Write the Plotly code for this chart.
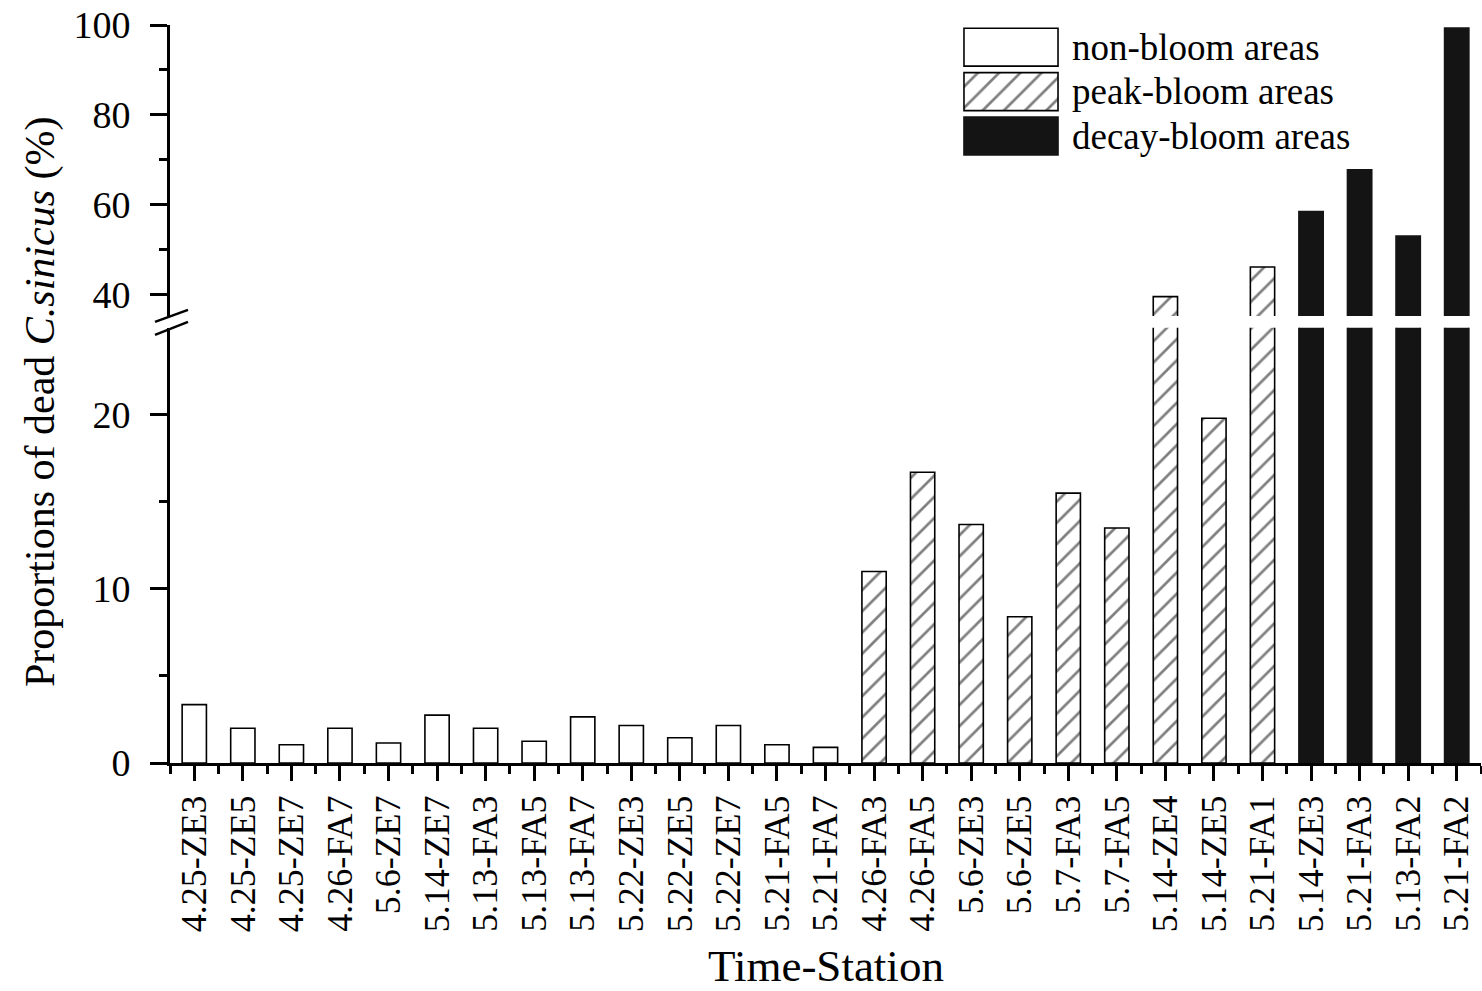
import plotly.graph_objects as go

# Sampling stations (date-station), in plotting order
stations = [
    "4.25-ZE3", "4.25-ZE5", "4.25-ZE7", "4.26-FA7", "5.6-ZE7", "5.14-ZE7",
    "5.13-FA3", "5.13-FA5", "5.13-FA7", "5.22-ZE3", "5.22-ZE5", "5.22-ZE7",
    "5.21-FA5", "5.21-FA7",
    "4.26-FA3", "4.26-FA5", "5.6-ZE3", "5.6-ZE5", "5.7-FA3", "5.7-FA5",
    "5.14-ZE4", "5.14-ZE5", "5.21-FA1",
    "5.14-ZE3", "5.21-FA3", "5.13-FA2", "5.21-FA2",
]

# Proportion of dead C. sinicus (%) per area type
non_bloom = [3.35, 2.0, 1.05, 2.0, 1.15, 2.75, 2.0, 1.25, 2.65, 2.15, 1.45, 2.15, 1.05, 0.9]
peak_bloom = [11.0, 16.7, 13.7, 8.4, 15.5, 13.5, 39.6, 19.8, 46.2]
decay_bloom = [58.5, 67.8, 53.1, 99.3]

group_names = ["non-bloom areas", "peak-bloom areas", "decay-bloom areas"]
groups = [non_bloom, peak_bloom, decay_bloom]

# Axis ticks
low_ticks, low_minor = [0, 10, 20], [5, 15]
high_ticks, high_minor = [40, 60, 80, 100], [50, 70, 90]

FONT = "Liberation Serif"
INK = "black"

styles = [
    dict(color="white", line=dict(color=INK, width=1.6)),
    dict(color="white", line=dict(color=INK, width=1.6),
         pattern=dict(shape="/", fgcolor=INK, bgcolor="white", size=15, solidity=0.18)),
    dict(color="#141414", line=dict(color="#141414", width=1.6)),
]

# Figure geometry (pixels)
W, H = 1482, 991
L, R, T, B = 170, 1, 25, 228
plot_h = H - T - B
lower_top_px = 327.7
upper_bot_px = 316.0
bottom_px = H - B


def py(px):
    return min(1.0, max(0.0, (bottom_px - px) / plot_h))


def pxx(px):
    return (px - L) / (W - L - R)


fig = go.Figure()

start = 0
for name, vals, st in zip(group_names, groups, styles):
    xs = list(range(start, start + len(vals)))
    start += len(vals)
    for ax in ("y", "y2"):
        fig.add_trace(go.Bar(
            x=xs, y=vals, width=0.5, name=name, marker=st,
            xaxis="x", yaxis=ax, showlegend=False, hoverinfo="x+y",
        ))

# Legend swatches drawn as bars on a small helper axis
for i, (name, st) in enumerate(zip(group_names, styles)):
    fig.add_trace(go.Bar(
        x=[1], y=[i], orientation="h", width=0.854, marker=st,
        xaxis="x3", yaxis="y3", showlegend=False, hoverinfo="skip",
    ))
    fig.add_annotation(
        x=1.02, y=i, xref="x3", yref="y3", xanchor="left", yanchor="middle",
        xshift=10, text=name, showarrow=False,
        font=dict(family=FONT, size=37, color=INK),
    )

axis_common = dict(
    showline=True, linewidth=3, linecolor=INK, ticks="outside",
    tickwidth=3, tickcolor=INK, showgrid=False, zeroline=False,
)

fig.update_layout(
    width=W, height=H,
    margin=dict(l=L, r=R, t=T, b=B),
    plot_bgcolor="white", paper_bgcolor="white",
    barmode="overlay", showlegend=False,
    font=dict(family=FONT, color=INK),
    xaxis=dict(
        domain=[0, 1], range=[-0.5, len(stations) - 0.5], anchor="y",
        tickmode="array", tickvals=list(range(len(stations))), ticktext=stations,
        tickangle=-90, ticklen=15, ticklabelstandoff=0,
        tickfont=dict(family=FONT, size=36, color=INK),
        minor=dict(tickmode="array",
                   tickvals=[i - 0.5 for i in range(len(stations) + 1)],
                   ticks="outside", ticklen=8, tickwidth=3, tickcolor=INK),
        **axis_common,
    ),
    yaxis=dict(
        domain=[0, py(lower_top_px)], range=[0, 25], anchor="x",
        tickmode="array", tickvals=low_ticks, ticklen=17, ticklabelstandoff=12,
        tickfont=dict(family=FONT, size=38, color=INK),
        minor=dict(tickmode="array", tickvals=low_minor, ticks="outside",
                   ticklen=8, tickwidth=3, tickcolor=INK),
        **axis_common,
    ),
    yaxis2=dict(
        domain=[py(upper_bot_px), 1], range=[35.3, 100], anchor="x",
        tickmode="array", tickvals=high_ticks, ticklen=17, ticklabelstandoff=12,
        tickfont=dict(family=FONT, size=38, color=INK),
        minor=dict(tickmode="array", tickvals=high_minor, ticks="outside",
                   ticklen=8, tickwidth=3, tickcolor=INK),
        **axis_common,
    ),
    xaxis3=dict(domain=[pxx(962.1), pxx(1059.9)], range=[-0.02, 1.02],
                anchor="y3", visible=False, fixedrange=True),
    yaxis3=dict(domain=[py(158.25), 1], range=[2.5, -0.5],
                anchor="x3", visible=False, fixedrange=True),
)

# Axis-break marks on the y axis
brk = py((upper_bot_px + lower_top_px) / 2)
for y0, y1 in [(0, 12), (-13, 0)]:
    fig.add_shape(
        type="line", xref="paper", yref="paper",
        xsizemode="pixel", ysizemode="pixel", xanchor=0, yanchor=brk,
        x0=-15, x1=18, y0=y0, y1=y1,
        line=dict(color=INK, width=2.5),
    )

# Axis titles
fig.add_annotation(
    x=0, y=py(402), xref="paper", yref="paper", xanchor="center", yanchor="middle",
    xshift=-130, textangle=-90, showarrow=False,
    text="Proportions of dead <i>C.sinicus</i> (%)",
    font=dict(family=FONT, size=42, color=INK),
)
fig.add_annotation(
    x=0.5, y=0, xref="paper", yref="paper", xanchor="center", yanchor="middle",
    yshift=-203, showarrow=False, text="Time-Station",
    font=dict(family=FONT, size=45, color=INK),
)

fig.write_html("out.html")
